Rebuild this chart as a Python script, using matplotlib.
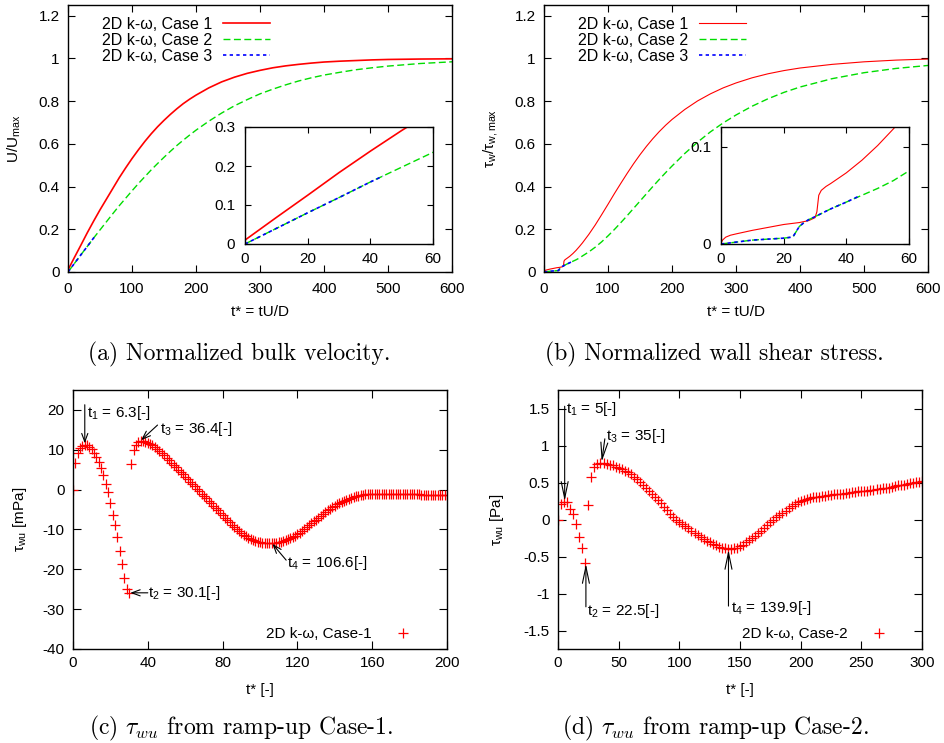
import numpy as np
import matplotlib
matplotlib.use("Agg")
import matplotlib.pyplot as plt
from matplotlib.ticker import FuncFormatter, MultipleLocator

plt.rcParams['font.family'] = ['Liberation Sans', 'DejaVu Sans']
plt.rcParams['font.size'] = 11
plt.rcParams['axes.unicode_minus'] = False
plt.rcParams['mathtext.fontset'] = 'custom'
plt.rcParams['mathtext.rm'] = 'Liberation Sans'
plt.rcParams['mathtext.it'] = 'Liberation Sans:italic'
plt.rcParams['mathtext.sf'] = 'Liberation Sans'

RED = '#ff0000'
GREEN = '#00dd00'
BLUE = '#0000ff'
FS = 11
LEG_FS = 11.5

# ---------------- (a) normalized bulk velocity ----------------
t_a = [0, 10, 20, 30, 40, 50, 60, 70, 80, 90, 100, 110, 120, 130, 140, 150,
       160, 170, 180, 190, 200, 220, 240, 260, 280, 300, 320, 340, 360, 380,
       400, 425, 450, 475, 500, 550, 600]
u_case1 = [0.01, 0.068, 0.125, 0.183, 0.238, 0.291, 0.341, 0.391, 0.441,
           0.487, 0.531, 0.572, 0.611, 0.647, 0.680, 0.710, 0.738, 0.764,
           0.788, 0.809, 0.828, 0.862, 0.890, 0.912, 0.930, 0.944, 0.956,
           0.965, 0.972, 0.978, 0.983, 0.987, 0.990, 0.993, 0.995, 0.997,
           0.998]
u_case2 = [0.0, 0.040, 0.080, 0.119, 0.159, 0.197, 0.235, 0.273, 0.310,
           0.345, 0.380, 0.414, 0.446, 0.478, 0.508, 0.537, 0.565, 0.592,
           0.617, 0.641, 0.664, 0.706, 0.744, 0.778, 0.807, 0.834, 0.856,
           0.876, 0.894, 0.909, 0.922, 0.935, 0.947, 0.956, 0.964, 0.976,
           0.984]
t_a3 = [0, 10, 20, 30, 40, 44]
u_case3 = [0.0, 0.040, 0.080, 0.119, 0.159, 0.174]

# ---------------- (b) normalized wall shear stress ----------------
t_b1 = [0, 0.5, 1.5, 3, 5, 10, 15, 20, 25, 28, 30, 30.6, 31.2, 32, 33.5, 35,
        40, 45, 50, 55, 60, 70, 80, 90, 100, 110, 120, 130, 140, 150, 160,
        170, 180, 190, 200, 220, 240, 260, 280, 300, 325, 350, 375, 400, 450,
        500, 550, 600]
tau_case1 = [0.001, 0.004, 0.007, 0.009, 0.0105, 0.014, 0.017, 0.020, 0.022,
             0.024, 0.027, 0.033, 0.050, 0.055, 0.059, 0.062, 0.073, 0.086,
             0.101, 0.118, 0.136, 0.176, 0.22, 0.268, 0.317, 0.367, 0.415,
             0.462, 0.507, 0.549, 0.588, 0.624, 0.657, 0.687, 0.714, 0.761,
             0.801, 0.834, 0.862, 0.885, 0.909, 0.928, 0.943, 0.955, 0.972,
             0.984, 0.992, 0.997]
t_b2 = [0, 5, 10, 15, 20, 22.5, 23, 25, 26.5, 28, 30, 35, 40, 45, 50, 55, 60,
        70, 80, 90, 100, 110, 120, 130, 140, 150, 160, 170, 180, 190, 200,
        220, 240, 260, 280, 300, 325, 350, 375, 400, 450, 500, 550, 600]
tau_case2 = [0.0, 0.002, 0.004, 0.005, 0.006, 0.007, 0.0075, 0.018, 0.022,
             0.025, 0.028, 0.036, 0.043, 0.050, 0.057, 0.065, 0.075, 0.094,
             0.116, 0.141, 0.169, 0.199, 0.231, 0.264, 0.298, 0.332, 0.366,
             0.400, 0.433, 0.465, 0.496, 0.555, 0.608, 0.656, 0.698, 0.735,
             0.776, 0.811, 0.841, 0.866, 0.905, 0.933, 0.953, 0.967]
t_b3 = [0, 5, 10, 15, 20, 22.5, 23, 25, 26.5, 28, 30, 35, 40, 44]
tau_case3 = [0.0, 0.002, 0.004, 0.005, 0.006, 0.007, 0.0075, 0.018, 0.022,
             0.025, 0.028, 0.036, 0.043, 0.049]

# ---------------- (c) tau_wu, ramp-up Case-1 [mPa], output every 1.25 ----------------
t_c = np.arange(0, 200.01, 1.25)
tau_wu_c = [
    0.0, 6.7, 9.3, 10.5, 11.0, 11.3, 11.1, 10.7, 10.1, 9.3,
    8.2, 6.9, 5.4, 3.6, 1.4, -0.6, -3.4, -6.3, -9.0, -11.9,
    -15.4, -18.7, -22.2, -25.0, -25.9, 6.5, 9.9, 11.2, 11.9, 12.2,
    12.2, 12.0, 11.8, 11.5, 11.1, 10.7, 10.2, 9.7, 9.1, 8.6,
    8.0, 7.4, 6.8, 6.2, 5.6, 5.0, 4.4, 3.8, 3.2, 2.6,
    2.0, 1.4, 0.8, 0.2, -0.4, -1.0, -1.6, -2.2, -2.8, -3.4,
    -4.0, -4.6, -5.2, -5.8, -6.4, -7.0, -7.6, -8.2, -8.8, -9.4,
    -9.9, -10.4, -10.9, -11.3, -11.7, -12.1, -12.4, -12.7, -12.9, -13.1,
    -13.2, -13.3, -13.4, -13.4, -13.4, -13.4, -13.4, -13.3, -13.2, -13.1,
    -12.9, -12.7, -12.5, -12.2, -11.9, -11.6, -11.2, -10.8, -10.4, -10.0,
    -9.5, -9.0, -8.5, -8.0, -7.5, -7.0, -6.6, -6.1, -5.7, -5.2,
    -4.8, -4.4, -4.0, -3.6, -3.3, -3.0, -2.8, -2.5, -2.3, -2.0,
    -1.8, -1.7, -1.5, -1.4, -1.3, -1.2, -1.1, -1.1, -1.0, -1.0,
    -1.0, -1.0, -1.0, -1.0, -1.0, -1.0, -1.0, -1.1, -1.1, -1.1,
    -1.1, -1.1, -1.1, -1.2, -1.2, -1.2, -1.2, -1.2, -1.2, -1.3,
    -1.3, -1.3, -1.3, -1.3, -1.3, -1.4, -1.4, -1.4, -1.4, -1.4,
    -1.4]

# ---------------- (d) tau_wu, ramp-up Case-2 [Pa], output every 2.5 ----------------
t_d = np.arange(0, 300.01, 2.5)
tau_wu_d = [
    0.0, 0.21, 0.24, 0.23, 0.145, 0.07, -0.06, -0.23, -0.39, -0.59,
    0.19, 0.57, 0.71, 0.75, 0.76, 0.76, 0.75, 0.74, 0.73, 0.71,
    0.70, 0.68, 0.66, 0.64, 0.61, 0.58, 0.55, 0.51, 0.47, 0.43,
    0.39, 0.35, 0.30, 0.26, 0.22, 0.17, 0.13, 0.08, 0.04, 0.00,
    -0.03, -0.06, -0.09, -0.12, -0.15, -0.18, -0.21, -0.24, -0.26, -0.29,
    -0.31, -0.33, -0.35, -0.37, -0.38, -0.39, -0.40, -0.40, -0.39, -0.38,
    -0.36, -0.34, -0.31, -0.28, -0.25, -0.22, -0.18, -0.15, -0.11, -0.08,
    -0.04, -0.01, 0.03, 0.06, 0.09, 0.12, 0.15, 0.18, 0.21, 0.23,
    0.25, 0.27, 0.28, 0.29, 0.30, 0.31, 0.31, 0.32, 0.32, 0.33,
    0.33, 0.34, 0.34, 0.35, 0.35, 0.36, 0.36, 0.37, 0.37, 0.38,
    0.38, 0.39, 0.39, 0.40, 0.40, 0.41, 0.41, 0.42, 0.43, 0.43,
    0.44, 0.45, 0.46, 0.46, 0.47, 0.48, 0.49, 0.50, 0.51, 0.51,
    0.52]

# annotated instants: (label, head_x, head_y, tail_x, tail_y, text_x, text_y)
marks_c = [
    ('t$_1$ = 6.3[-]', 6.3, 11.6, 6.3, 21.3, 7.4, 19.3),
    ('t$_2$ = 30.1[-]', 30.6, -25.9, 40.0, -25.9, 40.3, -25.9),
    ('t$_3$ = 36.4[-]', 36.4, 12.4, 45.2, 16.2, 46.3, 15.2),
    ('t$_4$ = 106.6[-]', 106.6, -13.6, 114.0, -17.7, 114.6, -18.3),
]
marks_d = [
    ('t$_1$ = 5[-]', 5.5, 0.25, 5.5, 1.53, 7.0, 1.50),
    ('t$_2$ = 22.5[-]', 23.0, -0.60, 23.0, -1.18, 23.6, -1.24),
    ('t$_3$ = 35[-]', 36.0, 0.78, 38.6, 1.09, 39.2, 1.13),
    ('t$_4$ = 139.9[-]', 140.5, -0.41, 140.5, -1.17, 142.5, -1.19),
]

W, H = 944, 743
fig = plt.figure(figsize=(W / 100, H / 100), dpi=100)


def px_axes(left, top, right, bottom, **kw):
    return fig.add_axes([left / W, 1 - bottom / H, (right - left) / W,
                         (bottom - top) / H], **kw)


gfmt = FuncFormatter(lambda v, p: f'{v:g}')


def style(ax, length, xpad, ypad):
    ax.tick_params(direction='in', top=True, right=True, length=length,
                   width=0.8, labelsize=FS)
    ax.tick_params(axis='x', pad=xpad)
    ax.tick_params(axis='y', pad=ypad)
    for s in ax.spines.values():
        s.set_linewidth(1.0)
    ax.xaxis.set_major_formatter(gfmt)
    ax.yaxis.set_major_formatter(gfmt)


def set_labels(ax, xlabel, ylabel, xlab_y, ylab_x):
    ax.set_xlabel(xlabel, fontsize=FS, va='center')
    ax.xaxis.set_label_coords(0.5, xlab_y)
    ax.set_ylabel(ylabel, fontsize=FS, va='center')
    ax.yaxis.set_label_coords(ylab_x, 0.5)


def curves(ax, t1, y1, t2, y2, t3, y3, lw1, with_labels):
    kw = lambda s: {'label': s} if with_labels else {}
    ax.plot(t1, y1, color=RED, lw=lw1, **kw('2D k-ω, Case 1'))
    ax.plot(t2, y2, color=GREEN, lw=1.0, dashes=(5, 2.5), **kw('2D k-ω, Case 2'))
    ax.plot(t3, y3, color=BLUE, lw=1.2, dashes=(2, 2), **kw('2D k-ω, Case 3'))


def top_panel(left, right, t1, y1, t2, y2, t3, y3, lw1, ylabel, ylab_x,
              ins_ymax):
    ax = px_axes(left, 5, right, 272)
    curves(ax, t1, y1, t2, y2, t3, y3, lw1, True)
    ax.set_xlim(0, 600)
    ax.set_ylim(0, 1.25)
    ax.xaxis.set_major_locator(MultipleLocator(100))
    ax.yaxis.set_major_locator(MultipleLocator(0.2))
    style(ax, 5, 7, 6)
    set_labels(ax, 't* = tU/D', ylabel, -0.15, ylab_x)
    ax.legend(loc='upper right', bbox_to_anchor=(0.525, 0.955),
              markerfirst=False, frameon=False, handlelength=2.9,
              handletextpad=0.7, labelspacing=0.06, borderpad=0,
              borderaxespad=0, fontsize=LEG_FS)

    ins = px_axes(left + 177, 127, left + 365, 244)
    ins.set_zorder(5)
    ins.set_facecolor('white')
    curves(ins, t1, y1, t2, y2, t3, y3, lw1, False)
    ins.set_xlim(0, 60)
    ins.set_ylim(0, ins_ymax)
    ins.xaxis.set_major_locator(MultipleLocator(20))
    ins.yaxis.set_major_locator(MultipleLocator(0.1))
    style(ins, 4.5, 6, 7)
    return ax


top_panel(68, 452, t_a, u_case1, t_a, u_case2, t_a3, u_case3, 1.2,
          'U/U$_{\\mathrm{max}}$', -0.14, 0.3)
top_panel(544, 928, t_b1, tau_case1, t_b2, tau_case2, t_b3, tau_case3, 0.8,
          'τ$_{\\mathrm{w}}$/τ$_{\\mathrm{w,max}}$', -0.14, 0.12)


def bottom_panel(left, right, t, y, xmax, xstep, ylim, ystep, ylabel, label,
                 marks, head_len, head_w, ylab_x):
    ax = px_axes(left, 390, right, 649)
    ax.plot(t, y, linestyle='none', marker='+', ms=6.5, mew=0.9, color=RED,
            label=label)
    ax.set_xlim(0, xmax)
    ax.set_ylim(*ylim)
    ax.xaxis.set_major_locator(MultipleLocator(xstep))
    ax.yaxis.set_major_locator(MultipleLocator(ystep))
    style(ax, 6, 5, 6)
    set_labels(ax, 't* [-]', ylabel, -0.158, ylab_x)
    ax.legend(loc='lower right', bbox_to_anchor=(0.912, 0.03),
              markerfirst=False, frameon=False, handlelength=1.5,
              handletextpad=1.3, borderpad=0, borderaxespad=0, fontsize=FS)
    for txt, hx, hy, tx, ty, lx, ly in marks:
        ax.annotate('', xy=(hx, hy), xytext=(tx, ty),
                    arrowprops=dict(arrowstyle=f'->,head_length={head_len},'
                                    f'head_width={head_w}',
                                    lw=0.8, color='black', shrinkA=0,
                                    shrinkB=0, mutation_scale=10))
        ax.text(lx, ly, txt, ha='left', va='center', fontsize=FS)
    return ax


bottom_panel(73, 447, t_c, tau_wu_c, 200, 40, (-40, 25), 10,
             'τ$_{\\mathrm{wu}}$ [mPa]', '2D k-ω, Case-1', marks_c, 0.6, 0.22,
             -0.142)
bottom_panel(558, 922, t_d, tau_wu_d, 300, 50, (-1.75, 1.75), 0.5,
             'τ$_{\\mathrm{wu}}$ [Pa]', '2D k-ω, Case-2', marks_d, 1.2, 0.25,
             -0.168)

captions = [
    (239, 354, '(a) Normalized bulk velocity.'),
    (714, 354, '(b) Normalized wall shear stress.'),
    (241, 728, r'(c) $\tau_{wu}$ from ramp-up Case-1.'),
    (715, 728, r'(d) $\tau_{wu}$ from ramp-up Case-2.'),
]
for x, y, s in captions:
    fig.text(x / W, 1 - y / H, s, ha='center', va='center', fontsize=17,
             fontfamily='cmr10', math_fontfamily='cm')

fig.savefig('out.png', dpi=100)
